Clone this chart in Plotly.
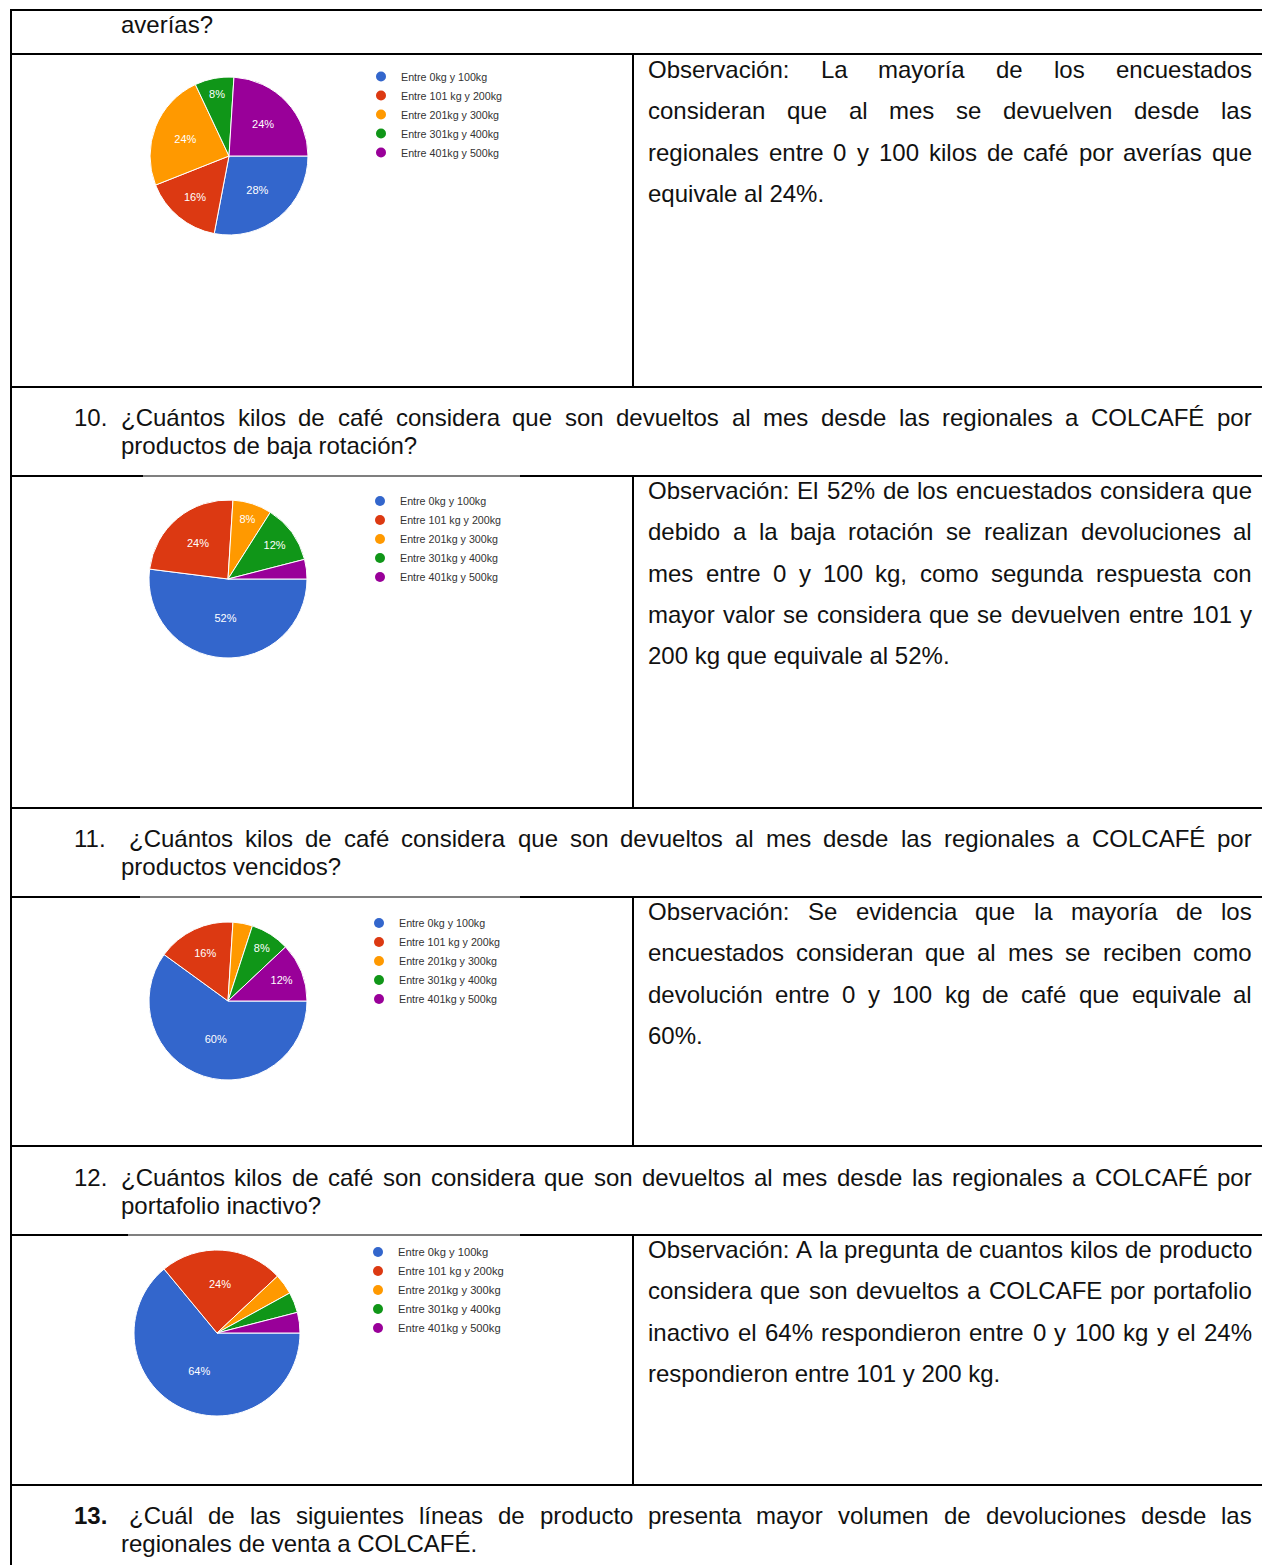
import plotly.graph_objects as go

# Page size in pixels
W, H = 1262, 1565

# ---- Survey data -------------------------------------------------------------
categories = [
    "Entre 0kg y 100kg",
    "Entre 101 kg y 200kg",
    "Entre 201kg y 300kg",
    "Entre 301kg y 400kg",
    "Entre 401kg y 500kg",
]
slice_colors = ["#3366CC", "#DC3912", "#FF9900", "#109618", "#990099"]

averias_pct = [28, 16, 24, 8, 24]
baja_rotacion_pct = [52, 24, 8, 12, 4]
vencidos_pct = [60, 16, 4, 8, 12]
portafolio_pct = [64, 24, 4, 4, 4]

# ---- Document text -----------------------------------------------------------
prev_question_tail = "averías?"

obs_averias = [
    "Observación: La mayoría de los encuestados",
    "consideran que al mes se devuelven desde las",
    "regionales entre 0 y 100 kilos de café por averías que",
    "equivale al 24%.",
]
q10 = [
    "¿Cuántos kilos de café considera que son devueltos al mes desde las regionales a COLCAFÉ por",
    "productos de baja rotación?",
]
obs_baja = [
    "Observación: El 52% de los encuestados considera que",
    "debido a la baja rotación se realizan devoluciones al",
    "mes entre 0 y 100 kg, como segunda respuesta con",
    "mayor valor se considera que se devuelven entre 101 y",
    "200 kg que equivale al 52%.",
]
q11 = [
    "¿Cuántos kilos de café considera que son devueltos al mes desde las regionales a COLCAFÉ por",
    "productos vencidos?",
]
obs_vencidos = [
    "Observación: Se evidencia que la mayoría de los",
    "encuestados consideran que al mes se reciben como",
    "devolución entre 0 y 100 kg de café que equivale al",
    "60%.",
]
q12 = [
    "¿Cuántos kilos de café son considera que son devueltos al mes desde las regionales a COLCAFÉ por",
    "portafolio inactivo?",
]
obs_portafolio = [
    "Observación: A la pregunta de cuantos kilos de producto",
    "considera que son devueltos a COLCAFE por portafolio",
    "inactivo el 64% respondieron entre 0 y 100 kg y el 24%",
    "respondieron entre 101 y 200 kg.",
]
q13 = [
    "¿Cuál de las siguientes líneas de producto presenta mayor volumen de devoluciones desde las",
    "regionales de venta a COLCAFÉ.",
]

# ---- Helpers -----------------------------------------------------------------
def px(x):
    return x / W


def py(y):
    return 1 - y / H


# Arial / Liberation Sans advance widths (1/1000 em) used for justified lines
AW = {" ": 278, "!": 278, "%": 889, ",": 278, ".": 278, ":": 278, "?": 556, "¿": 611,
      "0": 556, "1": 556, "2": 556, "3": 556, "4": 556, "5": 556, "6": 556, "7": 556,
      "8": 556, "9": 556,
      "A": 667, "B": 667, "C": 722, "D": 722, "E": 667, "F": 611, "G": 778, "H": 722,
      "I": 278, "J": 500, "K": 667, "L": 556, "M": 833, "N": 722, "O": 778, "P": 667,
      "Q": 778, "R": 722, "S": 667, "T": 611, "U": 722, "V": 667, "W": 944, "X": 667,
      "Y": 667, "Z": 611, "É": 667,
      "a": 556, "b": 556, "c": 500, "d": 556, "e": 556, "f": 278, "g": 556, "h": 556,
      "i": 222, "j": 222, "k": 500, "l": 222, "m": 833, "n": 556, "o": 556, "p": 556,
      "q": 556, "r": 333, "s": 500, "t": 278, "u": 556, "v": 500, "w": 722, "x": 500,
      "y": 500, "z": 500, "á": 556, "é": 556, "í": 278, "ó": 556, "ú": 556, "ñ": 556}

FONT = "Liberation Sans, Arial, sans-serif"
TXT = 24
INK = "#111111"

annotations = []


def text_width(s, size):
    return sum(AW.get(c, 556) for c in s) * size / 1000


def put(text, x, y, size=TXT, bold=False):
    annotations.append(dict(
        text=f"<b>{text}</b>" if bold else text,
        x=px(x), y=py(y), xref="paper", yref="paper",
        xanchor="left", yanchor="middle", showarrow=False,
        borderpad=0, borderwidth=0,
        font=dict(family=FONT, size=size, color=INK),
    ))


def put_line(line, x0, x1, y, justify=True, size=TXT):
    words = line.split(" ")
    if not justify or len(words) < 2:
        put(line, x0, y, size)
        return
    widths = [text_width(w, size) for w in words]
    gap = (x1 - x0 - sum(widths)) / (len(words) - 1)
    x = x0
    for w, wd in zip(words, widths):
        put(w, x, y, size)
        x += wd + gap


def paragraph(lines, x0, x1, y0, step):
    for i, line in enumerate(lines):
        put_line(line, x0, x1, y0 + i * step, justify=(i < len(lines) - 1))


def question(number, lines, y0, text_x0, bold=False):
    put(number, 74, y0, bold=bold)
    put_line(lines[0], text_x0, 1252, y0, justify=True)
    put(lines[1], 121, y0 + 28)


# ---- Table text --------------------------------------------------------------
put(prev_question_tail, 121, 24)
paragraph(obs_averias, 648, 1252, 69.5, 41.3)
question("10.", q10, 417.5, 121)
paragraph(obs_baja, 648, 1252, 490.5, 41.3)
question("11.", q11, 838.5, 129)
paragraph(obs_vencidos, 648, 1252, 911.5, 41.3)
question("12.", q12, 1177.5, 121)
paragraph(obs_portafolio, 648, 1252, 1249.5, 41.3)
question("13.", q13, 1515.5, 129, bold=True)

# ---- Table rules -------------------------------------------------------------
shapes = []


def hline(y, x0=11, x1=W, w=2):
    shapes.append(dict(type="line", xref="paper", yref="paper",
                       x0=px(x0), x1=px(x1), y0=py(y), y1=py(y),
                       line=dict(color="#000000", width=w)))


def vline(x, y0, y1, w=2):
    shapes.append(dict(type="line", xref="paper", yref="paper",
                       x0=px(x), x1=px(x), y0=py(y0), y1=py(y1),
                       line=dict(color="#000000", width=w)))


for y in [10, 54, 387, 808, 1146, 1485]:
    hline(y)
# rows whose top rule is partly covered by the chart image: heavier left stub,
# lighter rule above the chart, heavier again towards the divider
for y, x_img, x_img_end in [(476, 143, 520), (897, 140, 520), (1235, 128, 520)]:
    hline(y, 11, x_img)
    hline(y, x_img, x_img_end, w=1.2)
    hline(y, x_img_end, W)
vline(11, 9, H)
for y0, y1 in [(54, 387), (476, 808), (897, 1146), (1235, 1485)]:
    vline(633, y0, y1)

# ---- Pie charts ----------------------------------------------------------------
fig = go.Figure()

pies = [
    # values, centre x, centre y, radius, legend anchor (x, y), legend font
    (averias_pct, 229, 156, 79, (361, 62), 10.7),
    (baja_rotacion_pct, 228, 579, 79, (360, 486.5), 10.7),
    (vencidos_pct, 228, 1001, 79, (359, 908.5), 10.7),
    (portafolio_pct, 217, 1333, 83, (358, 1237.5), 11.2),
]

legend_layout = {}
for k, (vals, cx, cy, r, (lx, ly), lfs) in enumerate(pies, start=1):
    fig.add_trace(go.Pie(
        labels=categories,
        values=vals,
        sort=False,
        direction="clockwise",
        rotation=90,
        marker=dict(colors=slice_colors, line=dict(color="#ffffff", width=1)),
        text=[f"{v}%" if v >= 5 else "" for v in vals],
        textinfo="text",
        textposition="inside",
        insidetextorientation="horizontal",
        insidetextfont=dict(family="Arial, Liberation Sans, sans-serif", size=11, color="#ffffff"),
        domain=dict(x=[px(cx - r), px(cx + r)], y=[py(cy + r), py(cy - r)]),
        showlegend=False,
        hoverinfo="label+percent",
    ))
    legend_name = "legend" if k == 1 else f"legend{k}"
    for name, col in zip(categories, slice_colors):
        fig.add_trace(go.Scatter(
            x=[None], y=[None], mode="markers", name=name,
            marker=dict(color=col, size=10, symbol="circle"),
            legend=legend_name, showlegend=True,
        ))
    legend_layout[legend_name] = dict(
        x=px(lx), y=py(ly), xanchor="left", yanchor="top",
        bgcolor="rgba(0,0,0,0)", borderwidth=0, tracegroupgap=0,
        font=dict(family=FONT, size=lfs, color="#333333"),
        itemsizing="trace",
    )

fig.update_layout(
    width=W, height=H,
    margin=dict(l=0, r=0, t=0, b=0),
    paper_bgcolor="#ffffff", plot_bgcolor="#ffffff",
    xaxis=dict(visible=False, range=[0, 1]),
    yaxis=dict(visible=False, range=[0, 1]),
    shapes=shapes,
    annotations=annotations,
    **legend_layout,
)

fig.write_html("out.html")
